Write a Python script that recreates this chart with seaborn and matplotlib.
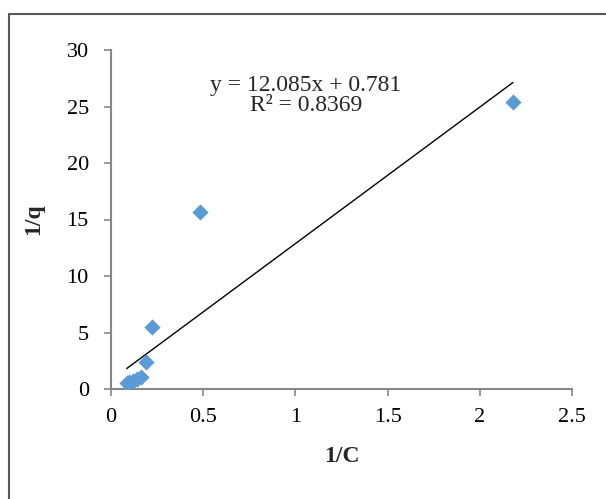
import numpy as np
import pandas as pd
import matplotlib
matplotlib.use("Agg")
import matplotlib.pyplot as plt
import seaborn as sns
from matplotlib.lines import Line2D

# data
inv_c = [0.085, 0.10, 0.12, 0.14, 0.16, 0.19, 0.22, 0.48, 2.18]
inv_q = [0.5, 0.65, 0.75, 0.85, 1.1, 2.4, 5.5, 15.7, 25.4]
slope = 12.085
intercept = 0.781
r2 = 0.8369
x_ticks = [0, 0.5, 1, 1.5, 2, 2.5]
x_tick_labels = ["0", "0.5", "1", "1.5", "2", "2.5"]
y_ticks = [0, 5, 10, 15, 20, 25, 30]

df = pd.DataFrame({"1/C": inv_c, "1/q": inv_q})

sns.set_style("white")
plt.rcParams["font.family"] = ["Liberation Serif", "DejaVu Serif"]

fig = plt.figure(figsize=(6.06, 4.99), dpi=100)
ax = fig.add_axes([111 / 606, 1 - 389 / 499, (572 - 111) / 606, (389 - 50) / 499])

sns.scatterplot(data=df, x="1/C", y="1/q", marker="D", s=68, color="#5B9BD5",
                edgecolor="#5B9BD5", linewidth=0, ax=ax, zorder=3)

# linear trendline from the equation shown
xs = np.array([min(inv_c), max(inv_c)])
ax.plot(xs, slope * xs + intercept, color="black", linewidth=1.0, zorder=2)

ax.set_xlim(0, 2.5)
ax.set_ylim(0, 30)
ax.set_xticks(x_ticks)
ax.set_xticklabels(x_tick_labels)
ax.set_yticks(y_ticks)
ax.tick_params(axis="both", labelsize=16, colors="#868686", labelcolor="black",
               length=5, width=1.2, direction="out")
ax.tick_params(axis="x", bottom=True, pad=9)
ax.tick_params(axis="y", left=True, pad=11)
for side in ["top", "right"]:
    ax.spines[side].set_visible(False)
for side in ["left", "bottom"]:
    ax.spines[side].set_color("#868686")
    ax.spines[side].set_linewidth(1.5)

ax.set_xlabel("1/C", fontsize=17, fontweight="bold")
ax.set_ylabel("1/q", fontsize=17, fontweight="bold")
ax.xaxis.set_label_coords(0.5, -0.168)
ax.yaxis.set_label_coords(-0.145, 0.5)

ax.text(1.057, 26.0, f"y = {slope}x + {intercept}\nR² = {r2}", ha="center", va="center",
        fontsize=17, linespacing=0.95)

# outer chart border
fig.add_artist(Line2D([9 / 606, 9 / 606], [0, 1 - 14 / 499], color="#595959", linewidth=1.5))
fig.add_artist(Line2D([9 / 606, 1], [1 - 14 / 499, 1 - 14 / 499], color="#595959", linewidth=1.5))

fig.savefig("out.png", dpi=100)
